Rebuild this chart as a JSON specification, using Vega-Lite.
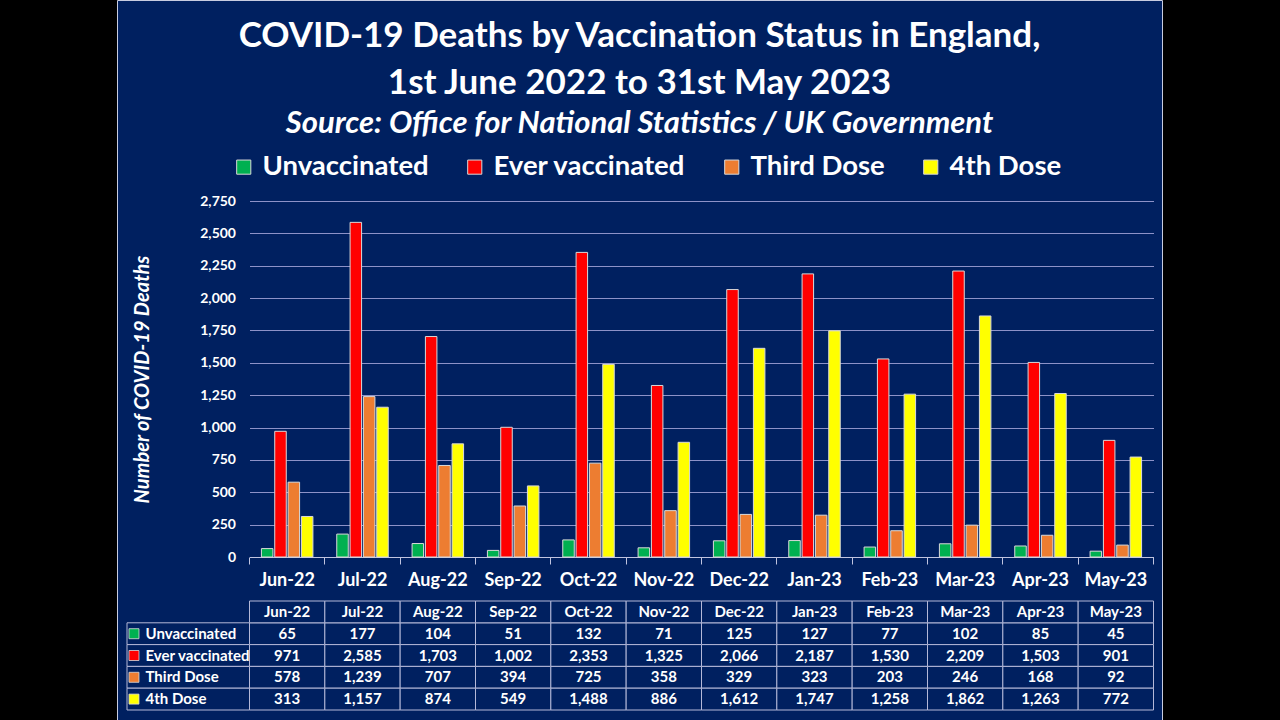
{
  "$schema": "https://vega.github.io/schema/vega-lite/v6.json",
  "width": 1045,
  "height": 720,
  "autosize": {"type": "none"},
  "padding": {"left": 117, "right": 118, "top": 0, "bottom": 0},
  "background": "#000000",
  "config": {
    "view": {"fill": "#002060", "stroke": "#C8CCE0", "strokeWidth": 1},
    "font": "Lato",
    "text": {"font": "Lato"}
  },
  "title": {
    "text": ["COVID-19 Deaths by Vaccination Status in England,", "1st June 2022 to 31st May 2023"],
    "subtitle": "Source: Office for National Statistics / UK Government",
    "anchor": "middle",
    "frame": "group",
    "fontSize": 35,
    "fontWeight": "bold",
    "lineHeight": 47,
    "color": "#FFFFFF",
    "subtitleFontSize": 31,
    "subtitleFontWeight": "bold",
    "subtitleFontStyle": "italic",
    "subtitleColor": "#FFFFFF",
    "subtitlePadding": 8,
    "offset": -139
  },
  "datasets": {
    "d": [
      {"month": "Jun-22", "series": "Unvaccinated", "value": 65},
      {"month": "Jul-22", "series": "Unvaccinated", "value": 177},
      {"month": "Aug-22", "series": "Unvaccinated", "value": 104},
      {"month": "Sep-22", "series": "Unvaccinated", "value": 51},
      {"month": "Oct-22", "series": "Unvaccinated", "value": 132},
      {"month": "Nov-22", "series": "Unvaccinated", "value": 71},
      {"month": "Dec-22", "series": "Unvaccinated", "value": 125},
      {"month": "Jan-23", "series": "Unvaccinated", "value": 127},
      {"month": "Feb-23", "series": "Unvaccinated", "value": 77},
      {"month": "Mar-23", "series": "Unvaccinated", "value": 102},
      {"month": "Apr-23", "series": "Unvaccinated", "value": 85},
      {"month": "May-23", "series": "Unvaccinated", "value": 45},
      {"month": "Jun-22", "series": "Ever vaccinated", "value": 971},
      {"month": "Jul-22", "series": "Ever vaccinated", "value": 2585},
      {"month": "Aug-22", "series": "Ever vaccinated", "value": 1703},
      {"month": "Sep-22", "series": "Ever vaccinated", "value": 1002},
      {"month": "Oct-22", "series": "Ever vaccinated", "value": 2353},
      {"month": "Nov-22", "series": "Ever vaccinated", "value": 1325},
      {"month": "Dec-22", "series": "Ever vaccinated", "value": 2066},
      {"month": "Jan-23", "series": "Ever vaccinated", "value": 2187},
      {"month": "Feb-23", "series": "Ever vaccinated", "value": 1530},
      {"month": "Mar-23", "series": "Ever vaccinated", "value": 2209},
      {"month": "Apr-23", "series": "Ever vaccinated", "value": 1503},
      {"month": "May-23", "series": "Ever vaccinated", "value": 901},
      {"month": "Jun-22", "series": "Third Dose", "value": 578},
      {"month": "Jul-22", "series": "Third Dose", "value": 1239},
      {"month": "Aug-22", "series": "Third Dose", "value": 707},
      {"month": "Sep-22", "series": "Third Dose", "value": 394},
      {"month": "Oct-22", "series": "Third Dose", "value": 725},
      {"month": "Nov-22", "series": "Third Dose", "value": 358},
      {"month": "Dec-22", "series": "Third Dose", "value": 329},
      {"month": "Jan-23", "series": "Third Dose", "value": 323},
      {"month": "Feb-23", "series": "Third Dose", "value": 203},
      {"month": "Mar-23", "series": "Third Dose", "value": 246},
      {"month": "Apr-23", "series": "Third Dose", "value": 168},
      {"month": "May-23", "series": "Third Dose", "value": 92},
      {"month": "Jun-22", "series": "4th Dose", "value": 313},
      {"month": "Jul-22", "series": "4th Dose", "value": 1157},
      {"month": "Aug-22", "series": "4th Dose", "value": 874},
      {"month": "Sep-22", "series": "4th Dose", "value": 549},
      {"month": "Oct-22", "series": "4th Dose", "value": 1488},
      {"month": "Nov-22", "series": "4th Dose", "value": 886},
      {"month": "Dec-22", "series": "4th Dose", "value": 1612},
      {"month": "Jan-23", "series": "4th Dose", "value": 1747},
      {"month": "Feb-23", "series": "4th Dose", "value": 1258},
      {"month": "Mar-23", "series": "4th Dose", "value": 1862},
      {"month": "Apr-23", "series": "4th Dose", "value": 1263},
      {"month": "May-23", "series": "4th Dose", "value": 772}
    ]
  },
  "data": {"name": "d"},
  "resolve": {"scale": {"x": "independent", "y": "independent"}},
  "layer": [
    {
      "mark": {"type": "bar", "stroke": "#D9D9D9", "strokeWidth": 1},
      "encoding": {
        "x": {
          "field": "month", "type": "nominal",
          "sort": ["Jun-22","Jul-22","Aug-22","Sep-22","Oct-22","Nov-22","Dec-22","Jan-23","Feb-23","Mar-23","Apr-23","May-23"],
          "scale": {"domain": ["Jun-22","Jul-22","Aug-22","Sep-22","Oct-22","Nov-22","Dec-22","Jan-23","Feb-23","Mar-23","Apr-23","May-23"], "range": [132.5, 1036.5], "paddingInner": 0, "paddingOuter": 0},
          "axis": {"orient": "bottom", "offset": -163, "title": null, "labelFontSize": 18, "labelFontWeight": "bold", "labelColor": "#FFFFFF", "labelPadding": 14, "labelAngle": 0, "ticks": false, "domain": true, "domainColor": "#C0C4E0", "domainWidth": 1, "grid": false}
        },
        "xOffset": {
          "field": "series", "type": "nominal",
          "sort": ["Unvaccinated", "Ever vaccinated", "Third Dose", "4th Dose"],
          "scale": {"domain": ["Unvaccinated", "Ever vaccinated", "Third Dose", "4th Dose"], "paddingInner": 0.137, "paddingOuter": 0.894}
        },
        "y": {
          "field": "value", "type": "quantitative",
          "scale": {"domain": [0, 2750], "nice": false, "zero": true, "range": [557, 201]},
          "axis": {"orient": "left", "offset": -132.5, "values": [0,250,500,750,1000,1250,1500,1750,2000,2250,2500,2750], "format": ",d", "labelFontSize": 14, "labelFontWeight": "bold", "labelColor": "#FFFFFF", "labelPadding": 14, "ticks": false, "domain": false, "grid": true, "gridColor": "#8D92C8", "gridWidth": 1, "title": "Number of COVID-19 Deaths", "titleFontSize": 20, "titleFontWeight": "bold", "titleFontStyle": "italic", "titleColor": "#FFFFFF", "titlePadding": 47}
        },
        "color": {
          "field": "series", "type": "nominal",
          "scale": {"domain": ["Unvaccinated", "Ever vaccinated", "Third Dose", "4th Dose"], "range": ["#00B050", "#FF0000", "#ED7D31", "#FFFF00"]},
          "legend": {"orient": "none", "legendX": 113, "legendY": 153, "direction": "horizontal", "title": null, "labelFontSize": 27.5, "labelFontWeight": "bold", "labelColor": "#FFFFFF", "symbolType": "square", "symbolSize": 200, "symbolStrokeColor": "#D9D9D9", "symbolStrokeWidth": 1, "symbolOpacity": 1, "columnPadding": 32, "labelOffset": 5, "padding": 0, "labelLimit": 400}
        }
      }
    },
    {
      "encoding": {
        "x": {
          "field": "month", "type": "nominal",
          "sort": ["Jun-22","Jul-22","Aug-22","Sep-22","Oct-22","Nov-22","Dec-22","Jan-23","Feb-23","Mar-23","Apr-23","May-23"],
          "scale": {"domain": ["Jun-22","Jul-22","Aug-22","Sep-22","Oct-22","Nov-22","Dec-22","Jan-23","Feb-23","Mar-23","Apr-23","May-23"], "range": [132.5, 1036.5], "paddingInner": 0, "paddingOuter": 0},
          "axis": {"orient": "bottom", "offset": -163, "title": null, "labels": false, "domain": false, "grid": false, "ticks": true, "tickSize": 7, "tickColor": "#C0C4E0", "tickWidth": 1, "bandPosition": 1, "tickExtra": true}
        },
        "y": {
          "field": "series", "type": "nominal",
          "scale": {"domain": ["Month", "Unvaccinated", "Ever vaccinated", "Third Dose", "4th Dose"], "range": [601, 710], "paddingInner": 0, "paddingOuter": 0},
          "axis": null
        }
      },
      "layer": [
        {"mark": {"type": "rect", "fill": "#002060", "stroke": "#B4B8D8", "strokeWidth": 1}},
        {"mark": {"type": "text", "color": "#FFFFFF", "fontSize": 15, "fontWeight": "bold", "align": "center", "baseline": "middle"},
         "encoding": {"text": {"field": "value", "type": "quantitative", "format": ",d"}}},
        {"transform": [{"filter": "datum.series === 'Unvaccinated'"}],
         "mark": {"type": "rect", "fill": "#002060", "stroke": "#B4B8D8", "strokeWidth": 1},
         "encoding": {"y": {"datum": "Month", "type": "nominal", "axis": null}}},
        {"transform": [{"filter": "datum.series === 'Unvaccinated'"}],
         "mark": {"type": "text", "color": "#FFFFFF", "fontSize": 15, "fontWeight": "bold", "align": "center", "baseline": "middle"},
         "encoding": {"y": {"datum": "Month", "type": "nominal", "axis": null}, "text": {"field": "month", "type": "nominal"}}}
      ]
    },
    {
      "transform": [{"filter": "datum.month === 'Jun-22'"}],
      "encoding": {
        "y": {
          "field": "series", "type": "nominal",
          "scale": {"domain": ["Month", "Unvaccinated", "Ever vaccinated", "Third Dose", "4th Dose"], "range": [601, 710], "paddingInner": 0, "paddingOuter": 0},
          "axis": null
        }
      },
      "layer": [
        {"mark": {"type": "rect", "fill": "#002060", "stroke": "#B4B8D8", "strokeWidth": 1},
         "encoding": {"x": {"datum": "labels", "type": "nominal", "scale": {"domain": ["labels"], "range": [10, 132.5], "paddingInner": 0, "paddingOuter": 0}, "axis": null}}},
        {"mark": {"type": "point", "shape": "square", "filled": true, "size": 100, "opacity": 1, "stroke": "#D9D9D9", "strokeWidth": 0.8},
         "encoding": {"x": {"datum": "labels", "type": "nominal", "bandPosition": 0.057, "axis": null},
                      "color": {"field": "series", "type": "nominal"}}},
        {"mark": {"type": "text", "color": "#FFFFFF", "fontSize": 15, "fontWeight": "bold", "align": "left", "baseline": "middle"},
         "encoding": {"x": {"datum": "labels", "type": "nominal", "bandPosition": 0.151, "axis": null},
                      "text": {"field": "series", "type": "nominal"}}}
      ]
    }
  ]
}
